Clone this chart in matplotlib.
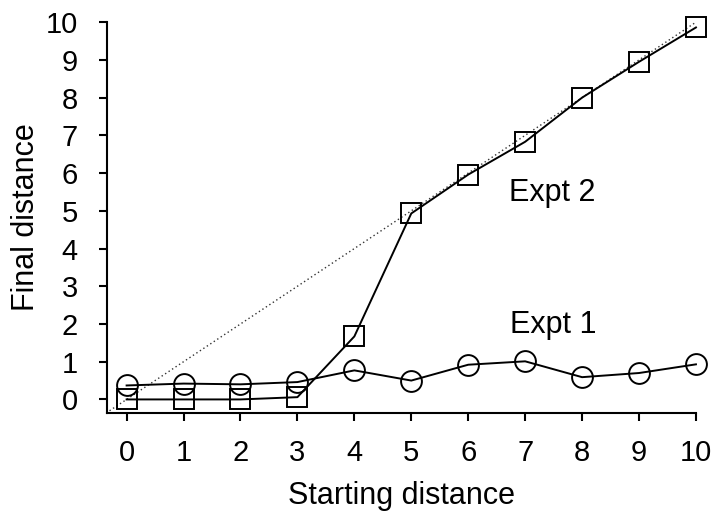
import matplotlib
matplotlib.use("Agg")
import matplotlib.pyplot as plt

plt.rcParams['font.family'] = ['Liberation Sans', 'DejaVu Sans']

starting = [0, 1, 2, 3, 4, 5, 6, 7, 8, 9, 10]
expt1 = [0.37, 0.42, 0.40, 0.46, 0.77, 0.50, 0.92, 1.01, 0.59, 0.70, 0.93]
expt2 = [0.0, 0.0, 0.0, 0.06, 1.67, 4.93, 5.96, 6.83, 8.0, 8.95, 9.86]
diag = [-0.3, 10]
xticks = list(range(0, 11))
yticks = list(range(0, 11))

FS = 22

fig = plt.figure(figsize=(7.16, 5.16), dpi=100)
ax = fig.add_axes([0.1494, 0.1996, 0.8226, 0.7574])

ax.plot(diag, diag, linestyle=(0, (1, 2)), color='#333333', linewidth=1.0, clip_on=False)
ax.plot(starting, expt2, color='black', linewidth=1.4, marker='s', markersize=14,
        markerfacecolor='none', markeredgecolor='black', markeredgewidth=1.4, clip_on=False)
ax.plot(starting, expt1, color='black', linewidth=1.4, marker='o', markersize=15,
        markerfacecolor='none', markeredgecolor='black', markeredgewidth=1.4, clip_on=False)

ax.text(6.72, 5.46, 'Expt 2', fontsize=FS, va='center', ha='left')
ax.text(6.73, 1.96, 'Expt 1', fontsize=FS, va='center', ha='left')

ax.set_xlim(-0.345, 10)
ax.set_ylim(-0.36, 10)
ax.set_xticks(xticks)
ax.set_yticks(yticks)
ax.tick_params(labelsize=21, width=1.5, length=6, direction='out')
ax.tick_params(axis='x', pad=13)
ax.tick_params(axis='y', pad=15)
for s in ['top', 'right']:
    ax.spines[s].set_visible(False)
for s in ['left', 'bottom']:
    ax.spines[s].set_linewidth(1.5)

ax.set_xlabel('Starting distance', fontsize=FS, labelpad=10)
ax.set_ylabel('Final distance', fontsize=FS, labelpad=3)

fig.savefig('out.png', dpi=100)
